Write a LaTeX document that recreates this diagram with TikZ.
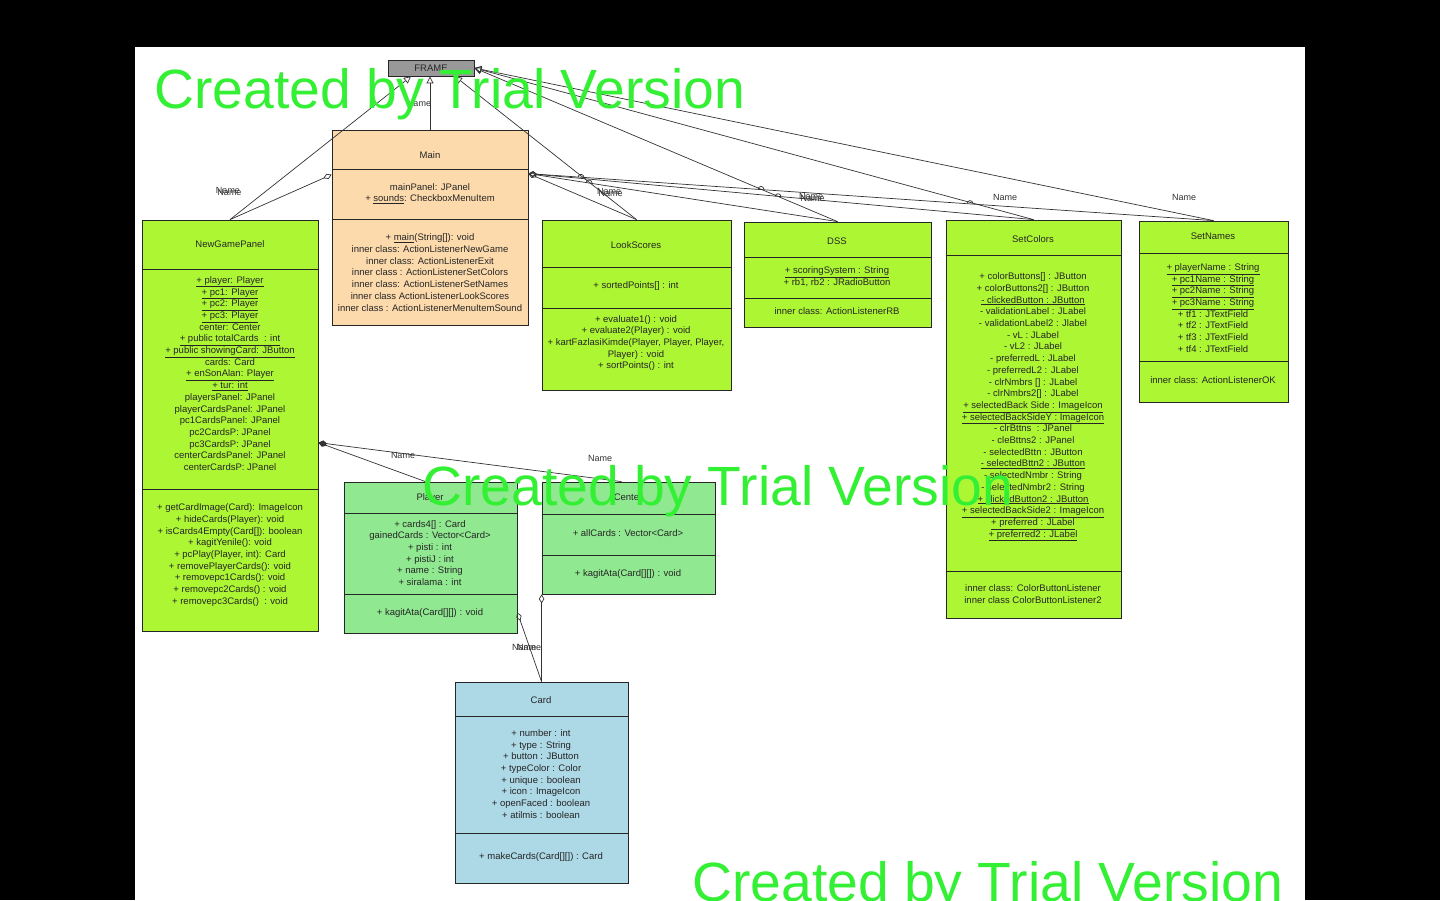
\documentclass[tikz,border=0pt]{standalone}
\usepackage{fontspec}
\setmainfont{Liberation Sans}
\usetikzlibrary{arrows.meta}

\definecolor{mainfill}{RGB}{252,218,172}
\definecolor{panelfill}{RGB}{172,246,52}
\definecolor{gamefill}{RGB}{144,232,144}
\definecolor{cardfill}{RGB}{173,216,230}
\definecolor{framefill}{RGB}{153,153,153}
\definecolor{trialgreen}{RGB}{52,240,52}

\tikzset{
  classbox/.style={draw=black!85, line width=0.8pt, inner sep=0pt},
  members/.style={align=center, inner sep=0pt, text=black!85, font=\fontsize{9.5}{11.7}\selectfont},
  rolename/.style={inner sep=0pt, text=black!80, font=\fontsize{9}{10}\selectfont},
  link/.style={draw=black!80, line width=0.7pt},
  inherit/.style={link, -{Triangle[open,length=7pt,width=7pt]}},
  aggr/.style={link, {Diamond[open,length=9pt,width=5.5pt]}-},
  comp/.style={link, {Diamond[length=9pt,width=5.5pt]}-},
  trial/.style={anchor=base west, inner sep=0pt, text=trialgreen, font=\fontsize{55.3}{60}\selectfont},
}

\begin{document}
\begin{tikzpicture}[x=1pt,y=-1pt]
  \clip (0,0) rectangle (1440,900);
  \fill[black] (0,0) rectangle (1440,900);
  \fill[white] (135,47) rectangle (1305,900);

  % class boxes
  \node[classbox, fill=framefill, minimum width=86pt, minimum height=16pt] (frame) at (431,68) {};
  \node[classbox, fill=mainfill, minimum width=196pt, minimum height=195pt] (main) at (430,227.5) {};
  \node[classbox, fill=panelfill, minimum width=176pt, minimum height=411pt] (ngp) at (230,425.5) {};
  \node[classbox, fill=panelfill, minimum width=189pt, minimum height=170pt] (looks) at (636.5,305) {};
  \node[classbox, fill=panelfill, minimum width=187pt, minimum height=105pt] (dss) at (837.5,274.5) {};
  \node[classbox, fill=panelfill, minimum width=175pt, minimum height=398pt] (setcolors) at (1033.5,419) {};
  \node[classbox, fill=panelfill, minimum width=149pt, minimum height=181pt] (setnames) at (1213.5,311.5) {};
  \node[classbox, fill=gamefill, minimum width=173pt, minimum height=151pt] (player) at (430.5,557.5) {};
  \node[classbox, fill=gamefill, minimum width=173pt, minimum height=112pt] (center) at (628.5,538) {};
  \node[classbox, fill=cardfill, minimum width=173pt, minimum height=201pt] (card) at (541.5,782.5) {};

  % compartment lines
  \foreach \c/\ya/\yb in {main/169/219, ngp/269/489, looks/267/308, dss/257/298,
      setcolors/255/571, setnames/253/361, player/513/594, center/514/555, card/716/833}
    \draw[line width=0.8pt, black!85] (\c.west |- 0,\ya) -- (\c.east |- 0,\ya)
      (\c.west |- 0,\yb) -- (\c.east |- 0,\yb);

  % names
  \node[members] (framename) at (431,68) {FRAME};
  \node[members] (mainname) at (430,155) {Main};
  \node[members] (ngpname) at (230,244) {NewGamePanel};
  \node[members] (looksname) at (636,245) {LookScores};
  \node[members] (dssname) at (837,241) {DSS};
  \node[members] (setcolorsname) at (1033,239) {SetColors};
  \node[members] (setnamesname) at (1213,236) {SetNames};
  \node[members] (playername) at (430,498) {Player};
  \node[members] (centername) at (628,497) {Center};
  \node[members] (cardname) at (541,700) {Card};

  % attributes and operations
  \node[members] (mainattr) at (430,193.5) {mainPanel: JPanel\\+ \underline{sounds}: CheckboxMenuItem};
  \node[members] (mainops) at (430,272.5) {+ \underline{main}(String[]): void\\
    inner class: ActionListenerNewGame\\inner class: ActionListenerExit\\
    inner class : ActionListenerSetColors\\inner class: ActionListenerSetNames\\
    inner class ActionListenerLookScores\\inner class : ActionListenerMenuItemSound};

  \node[members] (ngpattr) at (230,373.5) {\underline{+ player: Player}\\\underline{+ pc1: Player}\\
    \underline{+ pc2: Player}\\\underline{+ pc3: Player}\\center: Center\\
    \underline{+ public totalCards\ \ : int}\\\underline{+ public showingCard: JButton}\\
    cards: Card\\\underline{+ enSonAlan: Player}\\\underline{+ tur: int}\\
    playersPanel: JPanel\\playerCardsPanel: JPanel\\pc1CardsPanel: JPanel\\
    pc2CardsP: JPanel\\pc3CardsP: JPanel\\centerCardsPanel: JPanel\\centerCardsP: JPanel};
  \node[members] (ngpops) at (230,555) {+ getCardImage(Card): ImageIcon\\+ hideCards(Player): void\\
    + isCards4Empty(Card[]): boolean\\+ kagitYenile(): void\\+ pcPlay(Player, int): Card\\
    + removePlayerCards(): void\\+ removepc1Cards(): void\\+ removepc2Cards() : void\\
    + removepc3Cards()\ \ : void};

  \node[members] (looksattr) at (636,286) {+ sortedPoints[] : int};
  \node[members] (looksops) at (636,343) {+ evaluate1() : void\\+ evaluate2(Player) : void\\
    + kartFazlasiKimde(Player, Player, Player,\\Player) : void\\+ sortPoints() : int};

  \node[members] (dssattr) at (837,277) {\underline{+ scoringSystem : String}\\+ rb1, rb2 : JRadioButton};
  \node[members] (dssops) at (837,311) {inner class: ActionListenerRB};

  \node[members] (setcolorsattr) at (1033,407) {+ colorButtons[] : JButton\\+ colorButtons2[] : JButton\\
    \underline{- clickedButton : JButton}\\- validationLabel : JLabel\\- validationLabel2 : Jlabel\\
    - vL : JLabel\\- vL2 : JLabel\\- preferredL : JLabel\\- preferredL2 : JLabel\\
    - clrNmbrs [] : JLabel\\- clrNmbrs2[] : JLabel\\\underline{+ selectedBack Side : ImageIcon}\\
    \underline{+ selectedBackSideY : ImageIcon}\\- clrBttns\ \ : JPanel\\- cleBttns2 : JPanel\\
    - selectedBttn : JButton\\\underline{- selectedBttn2 : JButton}\\- selectedNmbr : String\\
    - selectedNmbr2 : String\\\underline{+ clickedButton2 : JButton}\\
    \underline{+ selectedBackSide2 : ImageIcon}\\\underline{+ preferred : JLabel}\\
    \underline{+ preferred2 : JLabel}};
  \node[members] (setcolorsops) at (1033,594) {inner class: ColorButtonListener\\inner class ColorButtonListener2};

  \node[members] (setnamesattr) at (1213,308) {\underline{+ playerName : String}\\\underline{+ pc1Name : String}\\
    \underline{+ pc2Name : String}\\\underline{+ pc3Name : String}\\+ tf1 : JTextField\\
    + tf2 : JTextField\\+ tf3 : JTextField\\+ tf4 : JTextField};
  \node[members] (setnamesops) at (1213,380) {inner class: ActionListenerOK};

  \node[members] (playerattr) at (430,553) {+ cards4[] : Card\\gainedCards : Vector<Card>\\
    + pisti : int\\+ pistiJ : int\\+ name : String\\+ siralama : int};
  \node[members] (playerops) at (430,613) {+ kagitAta(Card[][]) : void};

  \node[members] (centerattr) at (628,533) {+ allCards : Vector<Card>};
  \node[members] (centerops) at (628,574) {+ kagitAta(Card[][]) : void};

  \node[members] (cardattr) at (541,774) {+ number : int\\+ type : String\\+ button : JButton\\
    + typeColor : Color\\+ unique : boolean\\+ icon : ImageIcon\\+ openFaced : boolean\\+ atilmis : boolean};
  \node[members] (cardops) at (541,857) {+ makeCards(Card[][]) : Card};

  % generalizations to FRAME
  \draw[inherit] (main.north) -- (main.north |- frame.south);
  \draw[inherit] (ngp.north) -- ([xshift=-20pt]frame.south);
  \draw[inherit] (looks.north) -- ([xshift=24pt]frame.south);
  \draw[inherit] (dss.north) -- (frame.east);
  \draw[inherit] (setcolors.north) -- (frame.east);
  \draw[inherit] (setnames.north) -- (frame.east);

  % aggregations
  \draw[aggr] ([yshift=-45pt]main.north west) -- (ngp.north);
  \draw[aggr] ([yshift=-44pt]main.north east) -- (looks.north);
  \draw[aggr] ([yshift=-44pt]main.north east) -- (dss.north);
  \draw[aggr] ([yshift=-44pt]main.north east) -- (setcolors.north);
  \draw[aggr] ([yshift=-44pt]main.north east) -- (setnames.north);
  \draw[comp] ([yshift=-223pt]ngp.north east) -- ([xshift=-5pt]player.north);
  \draw[comp] ([yshift=-223pt]ngp.north east) -- ([xshift=-7pt]center.north);
  \draw[aggr] ([yshift=21pt]player.south east) -- (card.north);
  \draw[aggr] (center.south west) -- (card.north);

  % line jumps
  \foreach \hx/\hy in {581/177.3, 589/183, 761/189.4, 778/196.7, 970/203.6}
    \draw[link] (\hx-3,\hy) arc[start angle=180, end angle=360, radius=3];

  % role names
  \node[rolename] (ngprole) at (228,190) {Name};
  \node[rolename] (ngprole2) at (229.5,192) {Name};
  \node[rolename] (mainrole) at (419,103) {Name};
  \node[rolename] (looksrole) at (609,191) {Name};
  \node[rolename] (looksrole2) at (610.5,193) {Name};
  \node[rolename] (dssrole) at (811,196) {Name};
  \node[rolename] (dssrole2) at (812.5,198) {Name};
  \node[rolename] (setcolorsrole) at (1005,197) {Name};
  \node[rolename] (setnamesrole) at (1184,197) {Name};
  \node[rolename] (playerrole) at (403,455) {Name};
  \node[rolename] (centerrole) at (600,458) {Name};
  \node[rolename] (cardrole) at (524,647) {Name};
  \node[rolename] (cardrole2) at (529,647) {Name};

  % watermark
  \node[trial] (trial1) at (154,108.5) {Created by Trial Version};
  \node[trial] (trial2) at (422,505) {Created by Trial Version};
  \node[trial] (trial3) at (692,901) {Created by Trial Version};
\end{tikzpicture}
\end{document}
